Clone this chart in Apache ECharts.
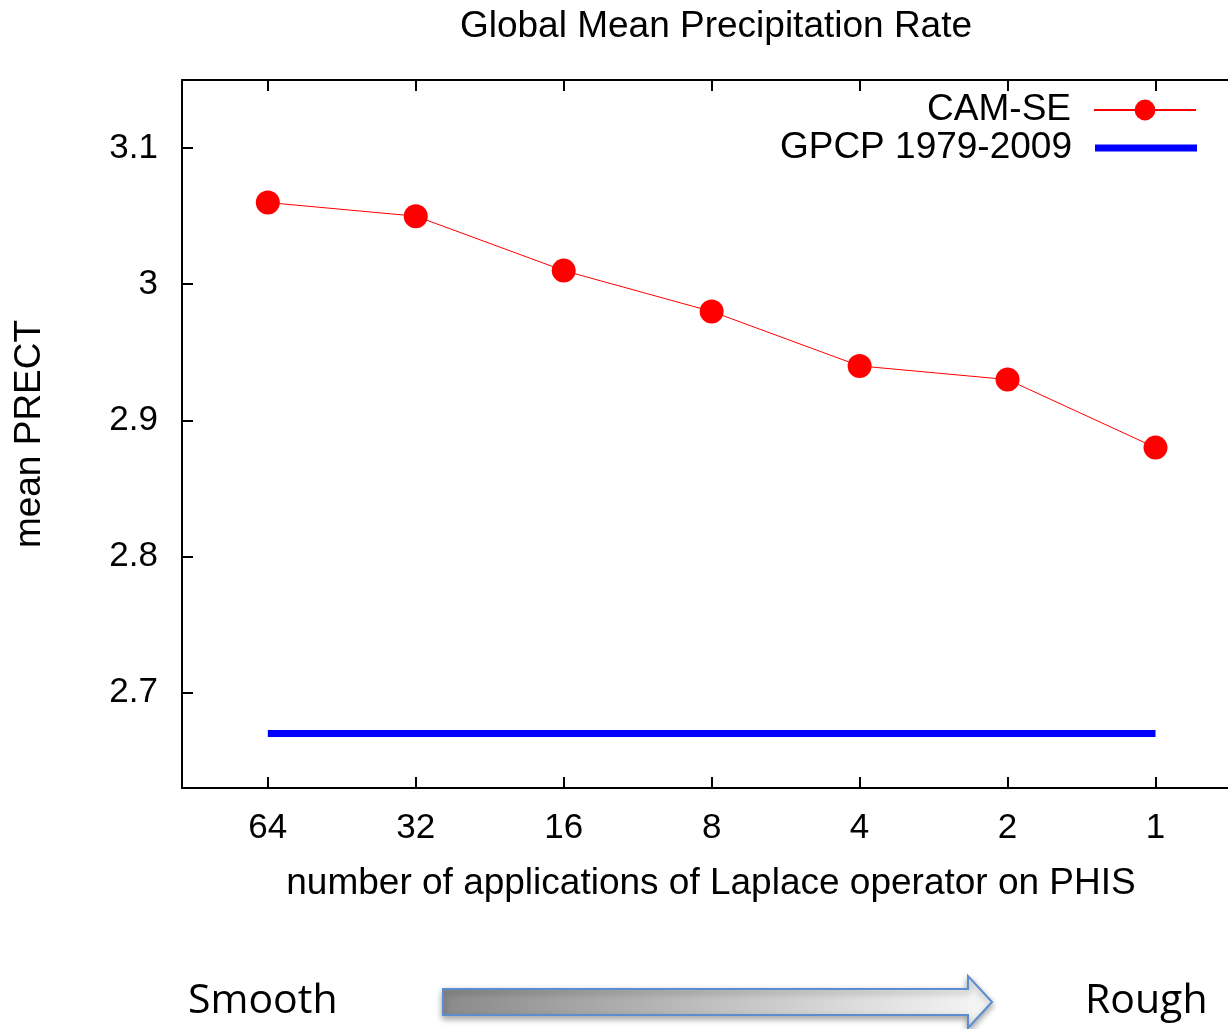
<!DOCTYPE html>
<html>
<head>
<meta charset="utf-8">
<script src="https://cdn.jsdelivr.net/npm/echarts@6/dist/echarts.min.js"></script>
<style>
  html, body { margin: 0; padding: 0; background: #fff; }
  #chart { width: 1228px; height: 1029px; }
</style>
</head>
<body>
<div id="chart"></div>
<script>
// x categories (number of Laplace applications)
const categories = ['64', '32', '16', '8', '4', '2', '1'];
// CAM-SE global mean precipitation
const camse = [3.06, 3.05, 3.01, 2.98, 2.94, 2.93, 2.88];
// GPCP 1979-2009 observed value
const gpcp = [2.67, 2.67, 2.67, 2.67, 2.67, 2.67, 2.67];
// y tick values
const yTicks = [2.7, 2.8, 2.9, 3.0, 3.1];

const font = 'Liberation Sans, Arial, Helvetica, sans-serif';
const xIdx = categories.map((c, i) => i);

const chart = echarts.init(document.getElementById('chart'));

const axisLine = { onZero: false, lineStyle: { color: '#000', width: 2 } };
const tickStyle = { inside: true, length: 11, lineStyle: { color: '#000', width: 2 } };
const legendText = { fontFamily: font, fontSize: 37, lineHeight: 38, color: '#000', padding: [0, 18, 0, 0] };

// the plot frame runs past the right edge, so the x range stops short of symmetric
const xMin = -0.58;
const xMax = 6.49;

chart.setOption({
    animation: false,
    backgroundColor: '#fff',
    title: {
        text: 'Global Mean Precipitation Rate',
        left: 711,
        top: 3,
        textAlign: 'center',
        textStyle: { fontFamily: font, fontSize: 37, fontWeight: 'normal', color: '#000' }
    },
    grid: { left: 182, top: 80, bottom: 241, right: 0 },
    legend: [{
        orient: 'vertical',
        right: 31,
        top: 91,
        padding: 0,
        align: 'right',
        itemWidth: 102,
        itemHeight: 26,
        data: ['CAM-SE'],
        textStyle: legendText
    }, {
        orient: 'vertical',
        right: 31,
        top: 129,
        padding: 0,
        align: 'right',
        itemWidth: 102,
        itemHeight: 7,
        icon: 'rect',
        data: ['GPCP 1979-2009'],
        textStyle: legendText
    }],
    xAxis: [{
        type: 'value',
        position: 'bottom',
        min: xMin,
        max: xMax,
        axisLine: axisLine,
        axisTick: Object.assign({ customValues: xIdx }, tickStyle),
        axisLabel: {
            customValues: xIdx,
            formatter: v => categories[Math.round(v)],
            margin: 23,
            fontFamily: font, fontSize: 35, color: '#000'
        },
        splitLine: { show: false },
        name: 'number of applications of Laplace operator on PHIS',
        nameLocation: 'middle',
        nameGap: 77,
        nameTextStyle: { fontFamily: font, fontSize: 37, color: '#000', padding: [0, 0, 0, 12] }
    }, {
        type: 'value',
        position: 'top',
        min: xMin,
        max: xMax,
        axisLine: axisLine,
        axisTick: Object.assign({ customValues: xIdx }, tickStyle),
        axisLabel: { show: false },
        splitLine: { show: false }
    }],
    yAxis: [{
        type: 'value',
        position: 'left',
        min: 2.63,
        max: 3.15,
        axisLine: Object.assign({ show: true }, axisLine),
        axisTick: Object.assign({ customValues: yTicks }, tickStyle),
        axisLabel: {
            customValues: yTicks,
            formatter: v => String(+v.toFixed(1)),
            margin: 24,
            fontFamily: font, fontSize: 35, color: '#000'
        },
        splitLine: { show: false },
        name: 'mean PRECT',
        nameLocation: 'middle',
        nameGap: 134,
        nameRotate: 90,
        nameTextStyle: { fontFamily: font, fontSize: 37, color: '#000' }
    }],
    series: [{
        name: 'CAM-SE',
        type: 'line',
        data: xIdx.map(i => [i, camse[i]]),
        symbol: 'circle',
        symbolSize: 24,
        itemStyle: { color: '#ff0000' },
        lineStyle: { color: '#ff0000', width: 1 }
    }, {
        name: 'GPCP 1979-2009',
        type: 'line',
        data: xIdx.map(i => [i, gpcp[i]]),
        symbol: 'none',
        itemStyle: { color: '#0000ff' },
        lineStyle: { color: '#0000ff', width: 7 }
    }],
    graphic: [{
        type: 'polygon',
        shape: {
            points: [[443, 989], [968, 989], [968, 976], [992, 1002], [968, 1028], [968, 1015], [443, 1015]]
        },
        style: {
            fill: new echarts.graphic.LinearGradient(0, 0, 1, 0, [
                { offset: 0, color: '#8a8a8a' },
                { offset: 1, color: '#f7f7f7' }
            ]),
            stroke: '#5b8ed0',
            lineWidth: 2,
            shadowBlur: 6,
            shadowOffsetY: 3,
            shadowColor: 'rgba(0,0,0,0.35)'
        }
    }, {
        type: 'text',
        left: 188,
        top: 981,
        style: { text: 'Smooth', fontFamily: 'Open Sans, sans-serif', fontSize: 41, fill: '#000' }
    }, {
        type: 'text',
        left: 1085,
        top: 981,
        style: { text: 'Rough', fontFamily: 'Open Sans, sans-serif', fontSize: 41, fill: '#000' }
    }]
});
</script>
</body>
</html>
